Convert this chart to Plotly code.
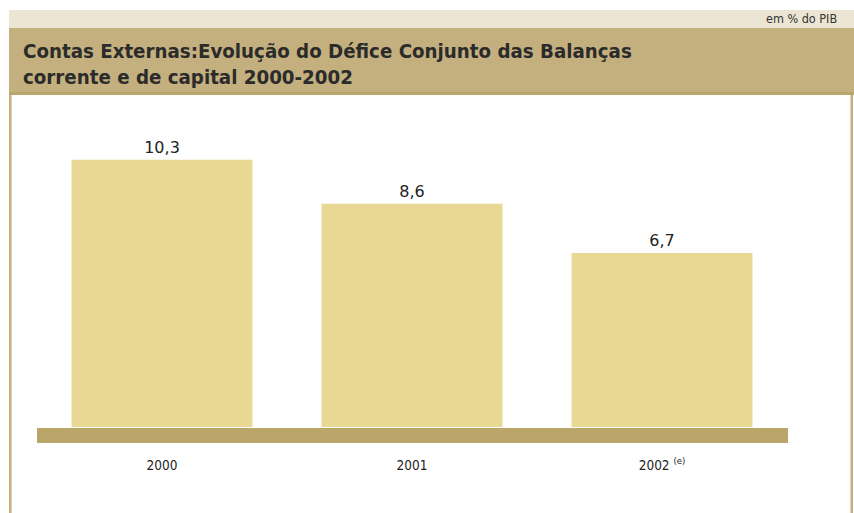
import plotly.graph_objects as go

categories = ["2000", "2001", "2002 <sup>(e)</sup>"]
values = [10.3, 8.6, 6.7]
title_lines = ["Contas Externas:Evolução do Défice Conjunto das Balanças",
               "corrente e de capital 2000-2002"]
unit_label = "em % do PIB"

W, H = 854, 513
ml, mr, mt, mb = 37, 67, 100, 86
ph = H - mt - mb
COND = "DejaVu Sans Condensed, DejaVu Sans"

def py(px):
    # convert pixel y (from top) to paper coordinate
    return (H - mb - px) / ph

def px_x(px):
    return (px - ml) / (W - ml - mr)

fig = go.Figure()
fig.add_trace(go.Bar(
    x=categories, y=values,
    marker=dict(color="#e8d894", line=dict(width=0)),
    width=0.724,
    text=values, texttemplate="%{y:.1f}", textposition="outside",
    textfont=dict(family="DejaVu Sans", size=16, color="#222222"),
    cliponaxis=False, hoverinfo="skip",
))

shapes = []
# light top strip
shapes.append(dict(type="rect", xref="paper", yref="paper", layer="below",
                   x0=px_x(9), x1=px_x(854), y0=py(28), y1=py(10),
                   fillcolor="#ece5d4", line=dict(width=0)))
# tan title band
shapes.append(dict(type="rect", xref="paper", yref="paper", layer="below",
                   x0=px_x(9), x1=px_x(854), y0=py(95), y1=py(28),
                   fillcolor="#c4b07e", line=dict(width=0)))
shapes.append(dict(type="rect", xref="paper", yref="paper", layer="below",
                   x0=px_x(9), x1=px_x(854), y0=py(95), y1=py(92),
                   fillcolor="#b9a66c", line=dict(width=0)))
# side borders
shapes.append(dict(type="rect", xref="paper", yref="paper", layer="below",
                   x0=px_x(9), x1=px_x(11.5), y0=py(513), y1=py(95),
                   fillcolor="#c4b07e", line=dict(width=0)))
shapes.append(dict(type="rect", xref="paper", yref="paper", layer="below",
                   x0=px_x(850.5), x1=px_x(853), y0=py(513), y1=py(95),
                   fillcolor="#c4b07e", line=dict(width=0)))
# baseline band
shapes.append(dict(type="rect", xref="paper", yref="paper", layer="above",
                   x0=0, x1=px_x(788), y0=py(443), y1=py(428),
                   fillcolor="#bba66a", line=dict(width=0)))

annotations = [
    dict(text=unit_label, xref="paper", yref="paper", x=px_x(839), y=py(19),
         xanchor="right", yanchor="middle", showarrow=False,
         font=dict(family=COND, size=12.5, color="#333333")),
    dict(text="<br>".join(title_lines), xref="paper", yref="paper",
         x=px_x(21), y=py(37), xanchor="left", yanchor="top", align="left",
         showarrow=False,
         font=dict(family=COND, size=20.3, color="#2b2b2b", weight=600)),
]

fig.update_layout(
    width=W, height=H,
    margin=dict(l=ml, r=mr, t=mt, b=mb, pad=0),
    paper_bgcolor="white", plot_bgcolor="rgba(0,0,0,0)",
    separators=", ",
    showlegend=False,
    shapes=shapes, annotations=annotations,
    bargap=0.276,
)
fig.update_xaxes(showgrid=False, zeroline=False, showline=False, ticks="",
                 ticklabelstandoff=28,
                 tickfont=dict(family=COND, size=13.5, color="#222222"),
                 fixedrange=True)
fig.update_yaxes(range=[0, 12.6], visible=False, fixedrange=True)

fig.write_html("out.html", config={"displayModeBar": False},
               post_script="document.body.style.margin='0';document.body.style.padding='0';")
